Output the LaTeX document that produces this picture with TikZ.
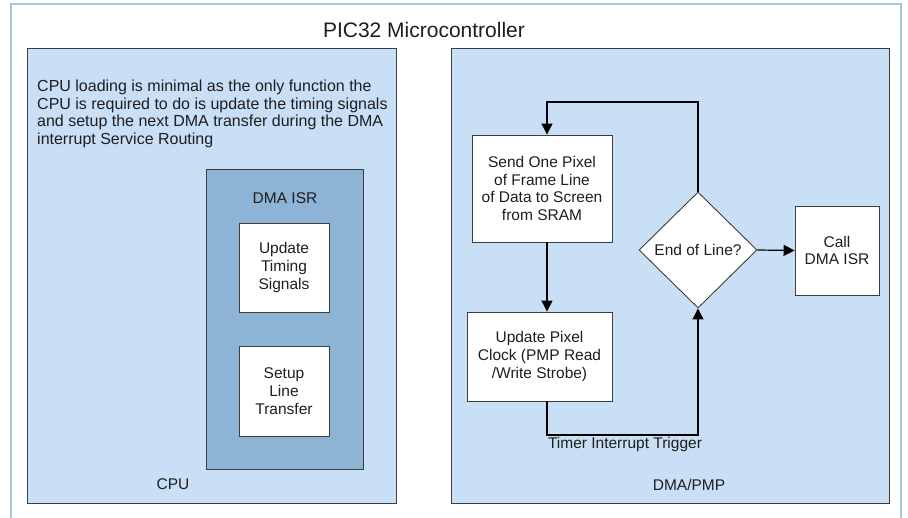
\documentclass[tikz,border=0pt]{standalone}
\usepackage{fontspec}
\setmainfont{Liberation Sans}
\usetikzlibrary{arrows.meta,shapes.geometric}
\definecolor{outerc}{HTML}{A9C6D8}
\definecolor{lightb}{HTML}{C9DFF5}
\definecolor{midb}{HTML}{8DB3D5}
\definecolor{edgec}{HTML}{3C3C3C}
\definecolor{txt}{HTML}{1E1E1E}
\begin{document}
\begin{tikzpicture}[x=1pt,y=-1pt,
  every node/.style={text=txt, font=\fontsize{15.5}{17.8}\selectfont},
  region/.style={draw=edgec, fill=lightb, line width=0.9pt, inner sep=0pt},
  isrbox/.style={draw=edgec, fill=midb, line width=0.9pt, inner sep=0pt},
  wbox/.style={draw=edgec, fill=white, line width=0.9pt, inner sep=0pt, align=center},
  lbl/.style={inner sep=0pt},
  conn/.style={draw=black, line width=1.2pt},
  arr/.style={conn, -{Triangle[length=11pt,width=11pt]}}
]
\useasboundingbox (0,0) rectangle (908,517);
\fill[white] (0,0) rectangle (908,517);
\draw[outerc, line width=2pt, fill=white] (11,4) rectangle (901,540);
\node[lbl, font=\fontsize{21}{24}\selectfont] (title) at (424,30) {PIC32 Microcontroller};

% CPU region
\node[region, minimum width=369pt, minimum height=455pt] (cpu) at (211.5,275.5) {};
\node[lbl, anchor=north west, align=left, font=\fontsize{16}{17.6}\selectfont] (cputxt) at (37,80)
  {CPU loading is minimal as the only function the\\
   CPU is required to do is update the timing signals\\
   and setup the next DMA transfer during the DMA\\
   interrupt Service Routing};
\node[isrbox, minimum width=157pt, minimum height=300pt] (isr) at (284.5,319) {};
\node[lbl] (isrlbl) at (285,198) {DMA ISR};
\node[wbox, minimum width=90pt, minimum height=89pt] (upt) at (284,267.5) {Update\\Timing\\Signals};
\node[wbox, minimum width=90pt, minimum height=90pt] (setup) at (284,391) {Setup\\Line\\Transfer};
\node[lbl] (cpulbl) at (173,484) {CPU};

% DMA/PMP region
\node[region, minimum width=438pt, minimum height=455pt] (dma) at (670,275.5) {};
\node[lbl] (dmalbl) at (689,485) {DMA/PMP};
\node[wbox, minimum width=140pt, minimum height=107pt] (send) at (542,188.5)
  {Send One Pixel\\of Frame Line\\of Data to Screen\\from SRAM};
\node[wbox, minimum width=145pt, minimum height=89pt] (upd) at (539.5,356.5)
  {Update Pixel\\Clock (PMP Read\\/Write Strobe)};
\node[wbox, diamond, minimum width=118pt, minimum height=116pt] (eol) at (698,250) {End of Line?};
\node[wbox, minimum width=84pt, minimum height=89pt] (call) at (837,250.5) {Call\\DMA ISR};

\coordinate (lx) at (547,0);
\coordinate (topy) at (0,102);
\coordinate (boty) at (0,435);

\draw[arr] (eol.north) -- (eol.north |- topy) -- (lx |- topy) -- (send.north -| lx);
\draw[arr] (send.south -| lx) -- (upd.north -| lx);
\draw[arr] (upd.south -| lx) -- (lx |- boty) -- (eol.south |- boty) -- (eol.south);
\draw[arr] (eol.east) -- (call.west);
\node[lbl] (tit) at (625,444) {Timer Interrupt Trigger};
\end{tikzpicture}
\end{document}
